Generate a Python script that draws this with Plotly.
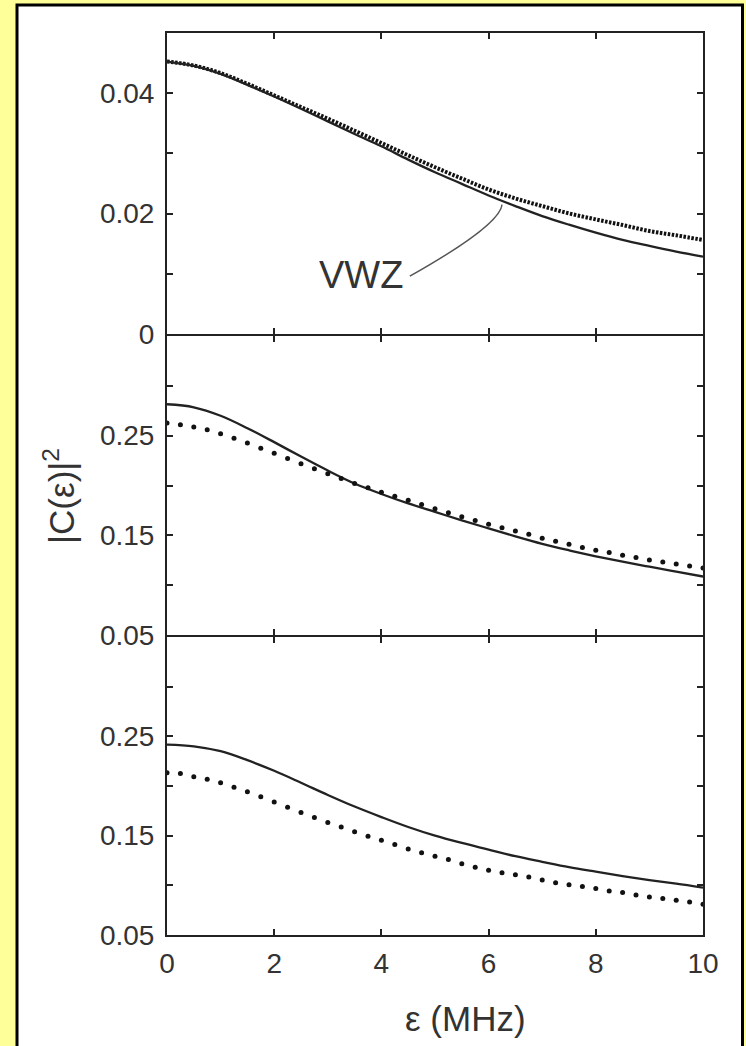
import numpy as np
import plotly.graph_objects as go
from plotly.subplots import make_subplots

# ---- data -------------------------------------------------------------
eps_half = [0, 0.5, 1, 1.5, 2, 2.5, 3, 3.5, 4, 4.5, 5,
            5.5, 6, 6.5, 7, 7.5, 8, 8.5, 9, 9.5, 10]      # MHz
eps_fine = list(np.linspace(0, 10, 41))                   # MHz, dot positions

# top panel
top_solid = [0.04526, 0.04454, 0.04321, 0.04139, 0.03946, 0.03742, 0.03532,
             0.03322, 0.03118, 0.02897, 0.02687, 0.02494, 0.02301, 0.02125,
             0.01959, 0.01816, 0.01683, 0.01562, 0.01462, 0.01369, 0.01286]
top_dotted = [0.04526, 0.04460, 0.04333, 0.04156, 0.03963, 0.03770, 0.03577,
              0.03377, 0.03173, 0.02969, 0.02770, 0.02583, 0.02401, 0.02252,
              0.02125, 0.02003, 0.01904, 0.01810, 0.01711, 0.01639, 0.01562]

# middle panel
mid_solid = [0.2815, 0.2785, 0.2700, 0.2575, 0.2435, 0.2290, 0.2150,
             0.2020, 0.1915, 0.1820, 0.1735, 0.1650, 0.1570, 0.1490,
             0.1415, 0.1350, 0.1290, 0.1235, 0.1185, 0.1135, 0.1087]
mid_dotted = [0.2627, 0.2610, 0.2587, 0.2560, 0.2520, 0.2473, 0.2427, 0.2373,
              0.2323, 0.2270, 0.2217, 0.2167, 0.2117, 0.2070, 0.2020, 0.1977,
              0.1933, 0.1893, 0.1853, 0.1810, 0.1767, 0.1727, 0.1687, 0.1650,
              0.1610, 0.1577, 0.1543, 0.1510, 0.1470, 0.1440, 0.1410, 0.1377,
              0.1350, 0.1327, 0.1300, 0.1277, 0.1253, 0.1233, 0.1213, 0.1193,
              0.1173]

# bottom panel
bot_solid = [0.2417, 0.2400, 0.2350, 0.2260, 0.2153, 0.2033, 0.1910,
             0.1793, 0.1687, 0.1587, 0.1500, 0.1427, 0.1360, 0.1293,
             0.1237, 0.1183, 0.1137, 0.1093, 0.1053, 0.1017, 0.0977]
bot_dotted = [0.2133, 0.2127, 0.2093, 0.2067, 0.2033, 0.1987, 0.1943, 0.1893,
              0.1840, 0.1787, 0.1733, 0.1683, 0.1633, 0.1587, 0.1540, 0.1493,
              0.1453, 0.1410, 0.1367, 0.1327, 0.1293, 0.1260, 0.1217, 0.1183,
              0.1153, 0.1127, 0.1107, 0.1083, 0.1053, 0.1027, 0.1007, 0.0987,
              0.0967, 0.0943, 0.0927, 0.0903, 0.0883, 0.0867, 0.0850, 0.0833,
              0.0810]

# ticks
x_ticks = [0, 2, 4, 6, 8, 10]
x_tick_text = ["0", "2", "4", "6", "8", "10"]
top_y_ticks = [0, 0.01, 0.02, 0.03, 0.04, 0.05]
top_y_text = ["0", "", "0.02", "", "0.04", ""]
low_y_ticks = [0.05, 0.10, 0.15, 0.20, 0.25, 0.30, 0.35]
low_y_text = ["0.05", "", "0.15", "", "0.25", "", ""]

# ---- styling ------------------------------------------------------------
FONT = "Liberation Sans, Arial, sans-serif"
TXT = "#333333"
INK = "#222222"

W, H = 746, 1046
L, R, T, B = 167, 43, 33, 111
PW, PH = W - L - R, H - T - B


def px_to_paper_x(px):
    return (px - L) / PW


def px_to_paper_y(py):
    return (H - B - py) / PH


fig = make_subplots(rows=3, cols=1, shared_xaxes=True, vertical_spacing=0)

line_solid = dict(color=INK, width=2.3, shape="spline", smoothing=1.0)

# top panel
fig.add_trace(go.Scatter(x=eps_half, y=top_dotted, mode="lines",
                         line=dict(color="#111111", width=4, dash="2.5px,1.5px",
                                   shape="spline", smoothing=1.0)),
              row=1, col=1)
fig.add_trace(go.Scatter(x=eps_half, y=top_solid, mode="lines", line=line_solid),
              row=1, col=1)

# middle panel
fig.add_trace(go.Scatter(x=eps_half, y=mid_solid, mode="lines", line=line_solid),
              row=2, col=1)
fig.add_trace(go.Scatter(x=eps_fine, y=mid_dotted, mode="markers",
                         marker=dict(color="#111111", size=5)),
              row=2, col=1)

# bottom panel
fig.add_trace(go.Scatter(x=eps_half, y=bot_solid, mode="lines", line=line_solid),
              row=3, col=1)
fig.add_trace(go.Scatter(x=eps_fine, y=bot_dotted, mode="markers",
                         marker=dict(color="#111111", size=5)),
              row=3, col=1)

axis_common = dict(showline=True, linewidth=2, linecolor=INK, mirror="allticks",
                   ticks="inside", ticklen=6, tickwidth=2, tickcolor=INK,
                   showgrid=False, zeroline=False,
                   tickfont=dict(family=FONT, size=28, color=TXT))

for i in (1, 2, 3):
    fig.update_xaxes(axis_common, range=[0, 10], tickvals=x_ticks,
                     ticktext=x_tick_text, showticklabels=(i == 3),
                     ticklabelstandoff=2, row=i, col=1)

fig.update_yaxes(axis_common, range=[0, 0.05], tickvals=top_y_ticks,
                 ticktext=top_y_text, ticklabelstandoff=5, row=1, col=1)
fig.update_yaxes(axis_common, range=[0.05, 0.35], tickvals=low_y_ticks,
                 ticktext=low_y_text, ticklabelstandoff=5, row=2, col=1)
fig.update_yaxes(axis_common, range=[0.05, 0.35], tickvals=low_y_ticks,
                 ticktext=low_y_text, ticklabelstandoff=5, row=3, col=1)

# stacked panels; a 2 px gap lets neighbouring frame lines coincide
fig.update_layout(
    yaxis=dict(domain=[px_to_paper_y(334), 1]),
    yaxis2=dict(domain=[px_to_paper_y(635), px_to_paper_y(336)]),
    yaxis3=dict(domain=[0, px_to_paper_y(637)]),
)

# white framed sheet behind the plot
fig.add_shape(type="rect", xref="paper", yref="paper", layer="below",
              x0=px_to_paper_x(17), x1=px_to_paper_x(742.5),
              y0=px_to_paper_y(1060), y1=px_to_paper_y(5),
              fillcolor="white", line=dict(color="black", width=3))

# label leader for VWZ
fig.add_shape(type="path", xref="x", yref="y", layer="above",
              path="M 4.53,0.0096 Q 6.21,0.01805 6.25,0.0215",
              line=dict(color="#555555", width=1.5))

fig.add_annotation(x=3.62, y=0.0098, xref="x", yref="y", text="VWZ",
                   xanchor="center", yanchor="middle",
                   showarrow=False, font=dict(family=FONT, size=38, color=TXT))

# axis titles
fig.add_annotation(x=px_to_paper_x(465), y=px_to_paper_y(1018),
                   xref="paper", yref="paper", text="ε (MHz)", showarrow=False,
                   xanchor="center", yanchor="middle",
                   font=dict(family=FONT, size=35, color=TXT))
fig.add_annotation(x=px_to_paper_x(59), y=px_to_paper_y(496),
                   xref="paper", yref="paper", text="|C(ε)|<sup>2</sup>",
                   textangle=-90, showarrow=False,
                   xanchor="center", yanchor="middle",
                   font=dict(family=FONT, size=35, color=TXT))

fig.update_layout(
    width=W, height=H, autosize=False,
    margin=dict(l=L, r=R, t=T, b=B, pad=0),
    paper_bgcolor="#FFFF99", plot_bgcolor="white",
    showlegend=False,
)

fig.write_html("out.html")
